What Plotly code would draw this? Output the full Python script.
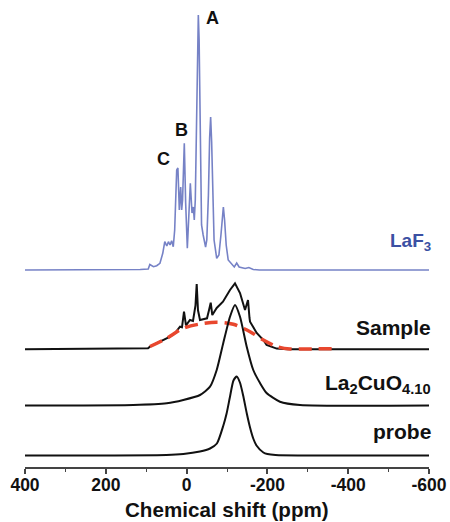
import plotly.graph_objects as go

# ---------------- data (chemical shift in ppm, intensity in arbitrary units) ----------------
laf3_ppm = [400, 150, 115, 95, 91, 82, 74, 66, 59, 54, 49, 45, 41, 37, 33, 29.5, 24.5, 21.5, 18,
            14.6, 12.2, 10, 5.7, 2.3, -1.8, -9.2, -13.4, -16.6, -19, -21.5, -24, -27, -29, -31,
            -34, -37, -41, -47, -50, -54, -57, -59.5, -62, -65, -68, -74.5, -80, -85, -88, -91,
            -94, -98, -103, -110, -118, -124, -130, -145, -154, -165, -180, -600]
laf3_int = [0, 0, 0.5, 1, 5.5, 3.3, 4.3, 6.7, 16.7, 28.3, 24, 28.3, 25, 29.3, 23.3, 40, 100, 102, 60,
            83, 60, 70, 126.7, 66.7, 21.7, 86.7, 57, 63, 50, 70, 140, 235, 255, 230,
            120, 45, 35, 23, 30, 75, 132, 153, 128, 65, 30, 11.7, 15, 35, 55, 63,
            50, 25, 10, 7, 3, 7, 3, 1.5, 2.5, 0.5, 0, 0]

sample_ppm = [400, 100, 95.5, 90.6, 41, 28.7, 16.3, 11.4, 6.4, 1.5, -8.4, -15.8, -22, -25, -28.2,
              -33.2, -40.6, -50.5, -55.4, -59.7, -63.6, -74.5, -90, -107.4, -119.8, -132.2,
              -144.6, -148.8, -152, -155.7, -157, -173.5, -190, -198, -223, -250, -600]
sample_int = [0, 0.5, 1, 2.6, 12.6, 16.3, 22.6, 22, 37.6, 24, 29.3, 28.3, 44, 65.3, 39,
              29.3, 30.3, 31, 39, 46.6, 34.3, 41.3, 47.6, 59.3, 66, 56.3,
              39.3, 44, 49.3, 31.3, 27.6, 16.3, 9.3, 4.3, 0.7, 0, 0]

fit_ppm = [90.6, 49.3, 8.2, -33.2, -74.5, -115.6, -157, -190, -223, -256, -300, -363]
fit_int = [2.8, 11, 21, 25.3, 27, 25, 17.6, 9.3, 2.8, 0.3, 0.4, 0.5]

la2cuo_ppm = [400, 132, 49, 8.2, -33.2, -58, -74.5, -90.8, -107.4, -119.8, -132.2, -148.8,
              -165, -181.7, -198, -231, -280.7, -600]
la2cuo_int = [0, 0.5, 2.2, 5.5, 10.5, 18.8, 35.5, 62.5, 88.8, 100.5, 88.8, 58.8,
              35.5, 22.5, 12.5, 3.8, 0.5, 0]

probe_ppm = [400, 50, 8, -33, -58, -75, -91, -99, -107, -116, -124, -132, -140, -149, -157,
             -165, -173, -190, -200, -220, -600]
probe_int = [0, 0.5, 1.5, 4, 7, 12, 30, 42, 58, 75, 79, 73, 60, 42, 28,
             17, 10, 3, 1.5, 0.5, 0]

x_ticks = [400, 200, 0, -200, -400, -600]
x_tick_labels = ["400", "200", "0", "-200", "-400", "-600"]
x_title = "Chemical shift (ppm)"
trace_labels = ["LaF<sub>3</sub>", "Sample", "La<sub>2</sub>CuO<sub>4.10</sub>", "probe"]
peak_labels = ["A", "B", "C"]
peak_label_ppm = [-64, 12, 58]

# ---------------- styling / layout ----------------
FONT = "Liberation Sans, Arial, sans-serif"
offsets = {"laf3": 197, "sample": 117.7, "la2cuo": 61.5, "probe": 11.5}
BLUE = "#7682c6"
BLACK = "#111111"
RED = "#e8472e"
PLOT_H = 467  # plot-area height in px


def shifted(vals, off):
    return [v + off for v in vals]


fig = go.Figure()
fig.add_trace(go.Scatter(x=laf3_ppm, y=shifted(laf3_int, offsets["laf3"]), mode="lines",
                         line=dict(color=BLUE, width=1.6), hoverinfo="skip"))
fig.add_trace(go.Scatter(x=sample_ppm, y=shifted(sample_int, offsets["sample"]), mode="lines",
                         line=dict(color=BLACK, width=2), hoverinfo="skip"))
fig.add_trace(go.Scatter(x=fit_ppm, y=shifted(fit_int, offsets["sample"]), mode="lines",
                         line=dict(color=RED, width=3.5, dash="13px,7px", shape="spline",
                                   smoothing=0.8), hoverinfo="skip"))
fig.add_trace(go.Scatter(x=la2cuo_ppm, y=shifted(la2cuo_int, offsets["la2cuo"]), mode="lines",
                         line=dict(color=BLACK, width=2, shape="spline", smoothing=0.6),
                         hoverinfo="skip"))
fig.add_trace(go.Scatter(x=probe_ppm, y=shifted(probe_int, offsets["probe"]), mode="lines",
                         line=dict(color=BLACK, width=2, shape="spline", smoothing=0.6),
                         hoverinfo="skip"))

# trace labels (right-aligned)
label_y = [offsets["laf3"] + 28, offsets["sample"] + 22, offsets["la2cuo"] + 22, offsets["probe"] + 24]
label_size = [19, 21, 21, 21]
label_color = ["#3b50a3", BLACK, BLACK, BLACK]
for txt, yy, sz, col in zip(trace_labels, label_y, label_size, label_color):
    fig.add_annotation(text=txt, x=1, xref="paper", y=yy, yref="y",
                       xanchor="right", yanchor="middle", xshift=4, showarrow=False,
                       font=dict(family=FONT, size=sz, color=col, weight="bold"))

# peak labels
peak_label_y = [449, 337, 308]
for txt, px, py in zip(peak_labels, peak_label_ppm, peak_label_y):
    fig.add_annotation(text=txt, x=px, y=py, xref="x", yref="y",
                       showarrow=False, font=dict(family=FONT, size=18, color=BLACK, weight="bold"))

# axis title
fig.add_annotation(text=x_title, x=0.5, xref="paper", y=-42 / PLOT_H, yref="paper",
                   xanchor="center", yanchor="middle", showarrow=False,
                   font=dict(family=FONT, size=20.6, color=BLACK, weight="bold"))

fig.update_layout(
    width=450, height=522,
    margin=dict(l=25, r=21, t=0, b=522 - PLOT_H, autoexpand=False),
    paper_bgcolor="white", plot_bgcolor="white",
    showlegend=False,
    xaxis=dict(range=[400, -600], tickvals=x_ticks, ticktext=x_tick_labels,
               automargin=False,
               showgrid=False, zeroline=False, showline=True, linecolor="#444", linewidth=1.5,
               ticks="outside", ticklen=5, tickwidth=1.5, tickcolor="#444",
               ticklabelstandoff=-4,
               minor=dict(dtick=100, ticks="outside", ticklen=3, tickwidth=1.2, tickcolor="#444"),
               tickfont=dict(family=FONT, size=17.5, color=BLACK, weight="bold")),
    yaxis=dict(range=[0, PLOT_H], visible=False, fixedrange=True),
)

fig.write_html("out.html", config={"displayModeBar": False},
               post_script="document.body.style.margin='0';document.body.style.overflow='hidden';")
